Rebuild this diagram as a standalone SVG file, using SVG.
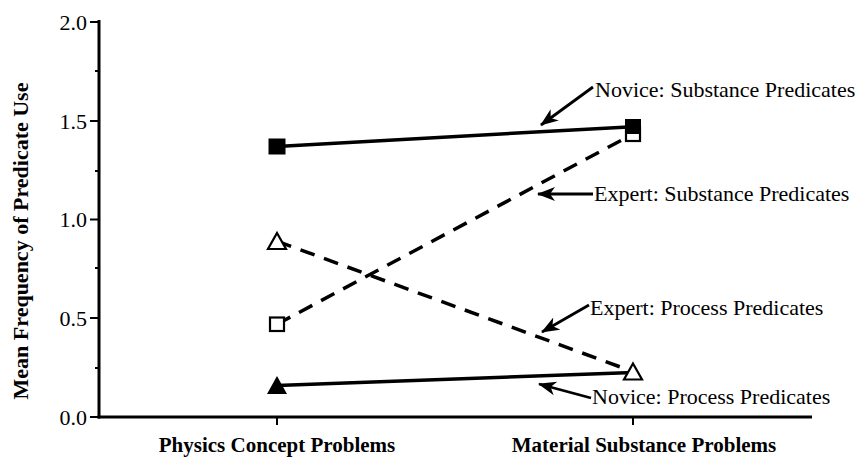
<svg xmlns="http://www.w3.org/2000/svg" width="859" height="457" viewBox="0 0 859 457">
<style>
  .tick { font-family: "Liberation Serif", "Times New Roman", serif; font-size: 22px; fill: #000; text-anchor: end; }
  .axt { font-family: "Liberation Serif", "Times New Roman", serif; font-size: 21px; font-weight: bold; fill: #000; text-anchor: middle; }
  .lab { font-family: "Liberation Serif", "Times New Roman", serif; font-size: 22px; fill: #000; }
  .axis { stroke: #000; stroke-width: 3; fill: none; }
  .tk { stroke: #000; stroke-width: 2; }
  .solid { stroke: #000; stroke-width: 3.5; fill: none; }
  .dash { stroke: #000; stroke-width: 3.5; fill: none; stroke-dasharray: 15 10; }
  .ptr { stroke: #000; stroke-width: 2.8; fill: none; marker-end: url(#ah); }
  .fill { fill: #000; }
  .open { fill: #fff; stroke: #000; stroke-width: 2.2; }
</style>
<defs>
  <marker id="ah" markerUnits="userSpaceOnUse" markerWidth="20" markerHeight="16" refX="17" refY="7" orient="auto">
    <path d="M0,0 L18,7 L0,14 L5,7 Z" fill="#000"/>
  </marker>
</defs>
<rect width="859" height="457" fill="#fff"/>

<g id="axes">
  <line class="axis" x1="99" y1="20" x2="99" y2="418.5"/>
  <line class="axis" x1="97.5" y1="417" x2="812" y2="417"/>
  <line class="tk" x1="90" y1="22" x2="99" y2="22"/>
  <line class="tk" x1="90" y1="121" x2="99" y2="121"/>
  <line class="tk" x1="90" y1="219.5" x2="99" y2="219.5"/>
  <line class="tk" x1="90" y1="318" x2="99" y2="318"/>
  <line class="tk" x1="90" y1="417" x2="99" y2="417"/>
  <line class="tk" x1="95" y1="71" x2="99" y2="71"/>
  <line class="tk" x1="95" y1="171" x2="99" y2="171"/>
  <line class="tk" x1="95" y1="268" x2="99" y2="268"/>
  <line class="tk" x1="95" y1="368" x2="99" y2="368"/>
  <line class="tk" x1="277" y1="417" x2="277" y2="425"/>
  <line class="tk" x1="633" y1="417" x2="633" y2="425"/>
  <text class="tick" x="87" y="29.5">2.0</text>
  <text class="tick" x="87" y="128.5">1.5</text>
  <text class="tick" x="87" y="227">1.0</text>
  <text class="tick" x="87" y="325.5">0.5</text>
  <text class="tick" x="87" y="424.5">0.0</text>
  <text class="axt" x="277" y="452">Physics Concept Problems</text>
  <text class="axt" x="644" y="452">Material Substance Problems</text>
  <text class="axt" style="font-size:22px" transform="translate(28,241) rotate(-90)">Mean Frequency of Predicate Use</text>
</g>

<g id="connectors">
  <line class="solid" x1="277" y1="385.4" x2="633" y2="372.5"/>
  <line class="dash" x1="277" y1="241.2" x2="633" y2="371.6"/>
  <line class="dash" x1="277" y1="324.2" x2="633" y2="134"/>
  <line class="solid" x1="277" y1="146.4" x2="633" y2="126.7"/>
  <line class="ptr" x1="593" y1="87" x2="541" y2="125"/>
  <line class="ptr" x1="593" y1="194" x2="538" y2="194"/>
  <line class="ptr" x1="589" y1="305" x2="542" y2="332"/>
  <line class="ptr" x1="591" y1="398" x2="539" y2="384"/>
</g>

<g id="novice-process">
  <polygon class="fill" points="277,376 287,394 267,394"/>
  <polygon class="fill" points="633,364 642,380 624,380"/>
</g>
<g id="expert-process">
  <polygon class="open" points="277,233 286,249 268,249"/>
  <polygon class="open" points="633,363.5 642,379.5 624,379.5"/>
</g>
<g id="expert-substance">
  <rect class="open" x="270" y="317.5" width="14" height="13.5"/>
  <rect class="open" x="626" y="127" width="14" height="14"/>
</g>
<g id="novice-substance">
  <rect class="fill" x="268.5" y="138.5" width="17" height="16"/>
  <rect class="fill" x="625" y="119" width="16" height="15"/>
</g>

<g id="labels">
  <text class="lab" x="595" y="97">Novice: Substance Predicates</text>
  <text class="lab" x="594" y="201">Expert: Substance Predicates</text>
  <text class="lab" x="590" y="315">Expert: Process Predicates</text>
  <text class="lab" x="592" y="404">Novice: Process Predicates</text>
</g>
</svg>
